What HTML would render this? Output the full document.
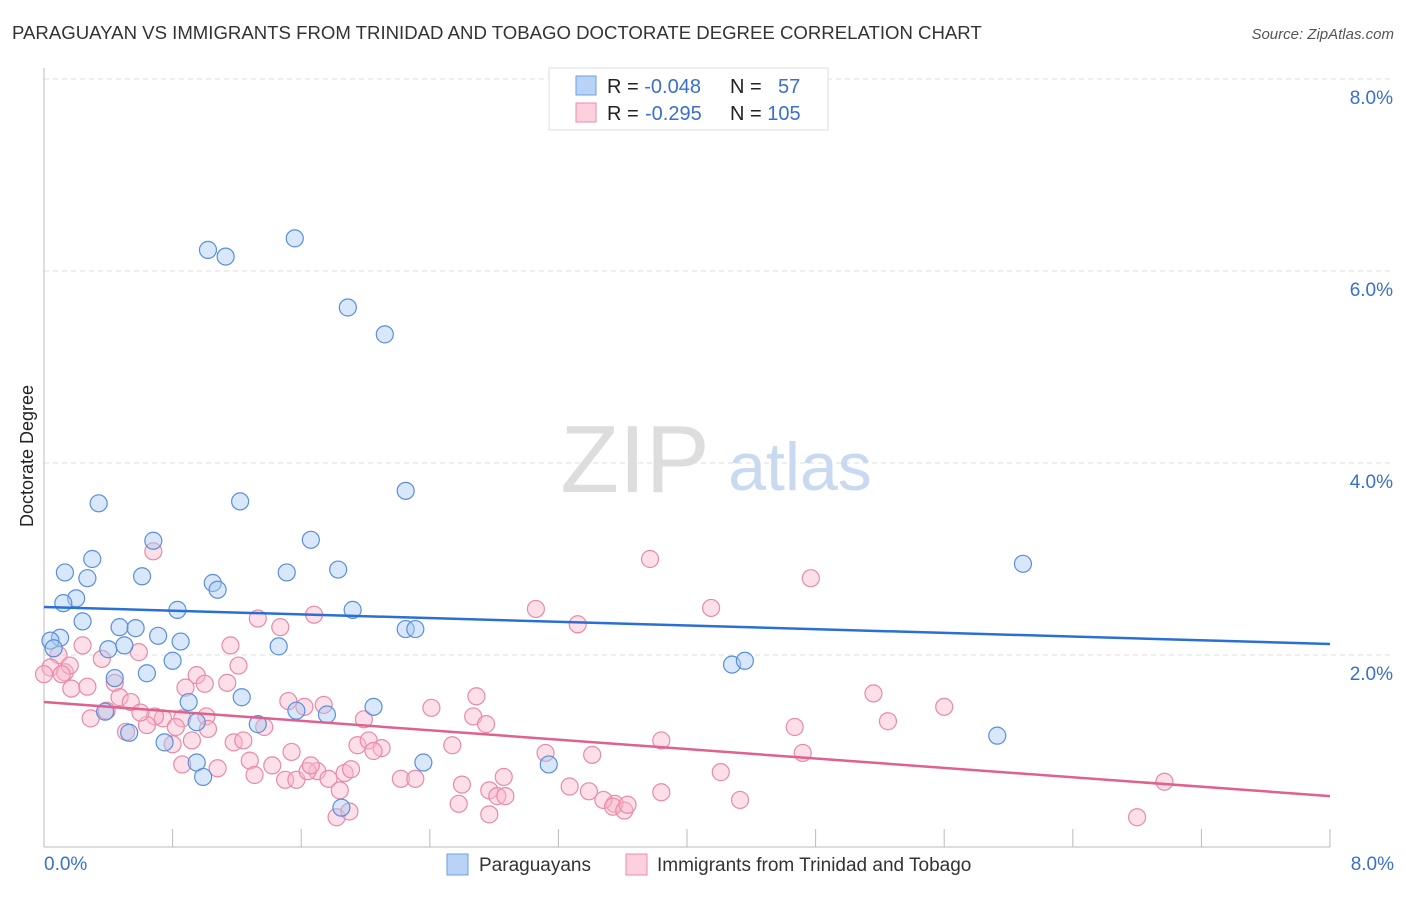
<!DOCTYPE html>
<html><head><meta charset="utf-8"><style>
body{margin:0;background:#fff;font-family:"Liberation Sans",sans-serif;}
svg text{font-family:"Liberation Sans",sans-serif;}
</style></head><body>
<svg id="chart" width="1406" height="892" viewBox="0 0 1406 892">
<text x="12" y="39" font-size="18.6" fill="#333">PARAGUAYAN VS IMMIGRANTS FROM TRINIDAD AND TOBAGO DOCTORATE DEGREE CORRELATION CHART</text>
<text x="1394" y="39" font-size="15" fill="#555" font-style="italic" text-anchor="end">Source: ZipAtlas.com</text>
<g id="grid"></g>
<g id="axes"></g>
<text x="635" y="492" font-size="96" font-family="Liberation Serif" fill="#ddd" text-anchor="middle">ZIP</text>
<text x="800" y="490" font-size="68" fill="#c9d9f0" text-anchor="middle">atlas</text>
<g id="pink"></g>
<g id="blue"></g>
<g id="trends"></g>
<text x="33" y="456" font-size="18" fill="#222" text-anchor="middle" transform="rotate(-90 33 456)">Doctorate Degree</text>
<g>
<rect x="549" y="68" width="279" height="62" fill="#fff" stroke="#ddd"/>
<rect x="576" y="76" width="20" height="19" fill="#b8d3f5" stroke="#6a9fe0"/>
<rect x="576" y="103" width="20" height="19" fill="#fcd0dc" stroke="#ec8aa6"/>
<text x="607" y="93" font-size="20" fill="#222">R = <tspan fill="#3a6fd0">-0.048</tspan></text>
<text x="730" y="93" font-size="20" fill="#222">N = <tspan x="778" fill="#3a6fd0">57</tspan></text>
<text x="607" y="120" font-size="20" fill="#222">R = <tspan x="645" fill="#3a6fd0">-0.295</tspan></text>
<text x="730" y="120" font-size="20" fill="#222">N = <tspan fill="#3a6fd0">105</tspan></text>
</g>
<g>
<rect x="447" y="854" width="21" height="21" fill="#b8d3f5" stroke="#6a9fe0"/>
<text x="479" y="871" font-size="19" fill="#333">Paraguayans</text>
<rect x="626" y="854" width="21" height="21" fill="#fcd0dc" stroke="#ec8aa6"/>
<text x="657" y="871" font-size="19" fill="#333">Immigrants from Trinidad and Tobago</text>
</g>
</svg>
<script>
const yTicks=[2,4,6,8];
const yTickLabels=["2.0%","4.0%","6.0%","8.0%"];
const xTickLabels=["0.0%","8.0%"];
const blueX=[0.34,0.13,0.27,0.3,0.61,0.68,0.2,0.12,0.24,0.1,0.04,0.06,0.47,0.57,0.4,0.5,0.71,0.85,0.83,1.05,1.08,1.22,1.51,1.66,1.83,1.92,2.25,2.31,2.25,1.46,0.80,0.64,0.44,1.02,1.13,1.56,1.89,2.12,1.23,0.9,0.95,1.33,1.57,1.76,2.05,0.38,0.53,0.75,0.95,0.99,1.85,2.36,3.14,4.28,4.36,6.09,5.93];
const blueY=[3.58,2.86,2.8,3.0,2.82,3.19,2.59,2.54,2.35,2.18,2.15,2.07,2.29,2.28,2.06,2.1,2.2,2.14,2.47,2.75,2.68,3.6,2.86,3.2,2.89,2.47,2.27,2.27,3.71,2.09,1.94,1.81,1.76,6.22,6.15,6.34,5.62,5.34,1.56,1.51,1.3,1.28,1.42,1.38,1.46,1.41,1.19,1.09,0.88,0.73,0.41,0.88,0.86,1.90,1.94,2.95,1.16];
const pinkX=[0.68,3.77,4.77,4.15,3.06,1.68,1.33,3.32,1.47,1.16,0.59,0.24,0.09,0.04,0.13,0.16,0.36,0.17,0.27,0.11,0.44,0.47,0.54,0.95,1.0,0.88,1.21,1.14,1.52,1.62,1.74,1.01,0.86,0.74,0.69,0.64,0.82,1.02,0.6,0.39,0.29,0.51,0.92,0.8,1.37,1.18,1.24,1.28,1.42,0.86,1.08,1.31,1.5,1.57,1.54,1.70,1.64,1.77,1.87,1.91,1.66,1.84,1.82,1.90,1.95,1.99,2.02,2.1,2.05,2.41,2.69,2.67,2.75,2.54,2.22,2.31,2.6,2.58,2.77,2.82,2.86,2.87,2.77,3.12,3.41,3.84,3.27,3.55,3.39,3.48,3.54,3.61,3.63,3.84,4.21,4.33,4.72,4.67,5.16,5.25,5.6,6.97,6.8,0.0];
const pinkY=[3.08,3.0,2.8,2.49,2.48,2.42,2.38,2.32,2.29,2.1,2.03,2.1,2.0,1.87,1.82,1.89,1.96,1.65,1.67,1.8,1.71,1.56,1.51,1.79,1.70,1.66,1.89,1.71,1.52,1.46,1.48,1.36,1.34,1.34,1.36,1.27,1.25,1.23,1.4,1.42,1.34,1.2,1.11,1.07,1.25,1.09,1.11,0.9,0.85,0.86,0.82,0.75,0.70,0.70,0.99,0.79,0.79,0.71,0.77,0.81,0.85,0.59,0.31,0.37,1.06,1.33,1.11,1.03,1.0,1.45,1.57,1.36,1.28,1.06,0.71,0.71,0.65,0.45,0.59,0.53,0.73,0.53,0.34,0.98,0.96,1.11,0.63,0.45,0.58,0.49,0.42,0.38,0.44,0.57,0.78,0.49,0.98,1.25,1.6,1.31,1.46,0.68,0.31,1.8];
const blueTrend=[2.5,2.115];
const pinkTrend=[1.51,0.53];
const X0=44,X1=1330,Y0=847,PXY=96;
const sx=v=>X0+(X1-X0)*v/8, sy=v=>Y0-v*PXY;
const NS="http://www.w3.org/2000/svg";
function mk(tag,attrs,parent){const e=document.createElementNS(NS,tag);for(const k in attrs)e.setAttribute(k,attrs[k]);parent.appendChild(e);return e;}
const grid=document.getElementById('grid'),axes=document.getElementById('axes');
yTicks.forEach((t,i)=>{
 const l=mk('line',{x1:X0,x2:1394,y1:sy(t),y2:sy(t),stroke:'#ddd','stroke-dasharray':'5,4'},grid);
 
 
 const tx=mk('text',{x:1393,y:sy(t)+25,'font-size':19,fill:'#3a6fd0','text-anchor':'end'},axes);
 tx.textContent=yTickLabels[i];
 
 
});
let a=mk('line',{x1:X0,x2:X0,y1:68,y2:Y0,stroke:'#bbb'},axes);


a=mk('line',{x1:X0,x2:X1,y1:Y0,y2:Y0,stroke:'#bbb'},axes);


for(let i=1;i<=10;i++){
 const t=mk('line',{x1:sx(i*0.8),x2:sx(i*0.8),y1:829,y2:Y0,stroke:'#bbb'},axes);
 
 
}
[[0,'start',44],[8,'end',1394]].forEach((d,i)=>{
 const t=mk('text',{x:d[2],y:870,'font-size':19,fill:'#3a6fd0','text-anchor':d[1]},axes);
 t.textContent=xTickLabels[i];
 
 
});
function pts(g,xs,ys,fill,stroke,name){
 xs.forEach((x,i)=>{
  const c=mk('circle',{cx:sx(x),cy:sy(ys[i]),r:8.5,fill:fill,'fill-opacity':0.45,stroke:stroke,'stroke-width':1.2},g);
  
  
 });
}
pts(document.getElementById('pink'),pinkX,pinkY,'#f9b8cb','#e98aa6','trinidad-point');
pts(document.getElementById('blue'),blueX,blueY,'#a9c9f2','#5a8fdc','paraguayan-point');
const tr=document.getElementById('trends');
let t=mk('line',{x1:sx(0),y1:sy(blueTrend[0]),x2:sx(8),y2:sy(blueTrend[1]),stroke:'#2a6fd6','stroke-width':2.5},tr);


t=mk('line',{x1:sx(0),y1:sy(pinkTrend[0]),x2:sx(8),y2:sy(pinkTrend[1]),stroke:'#e0608e','stroke-width':2.5},tr);


</script>
</body></html>
